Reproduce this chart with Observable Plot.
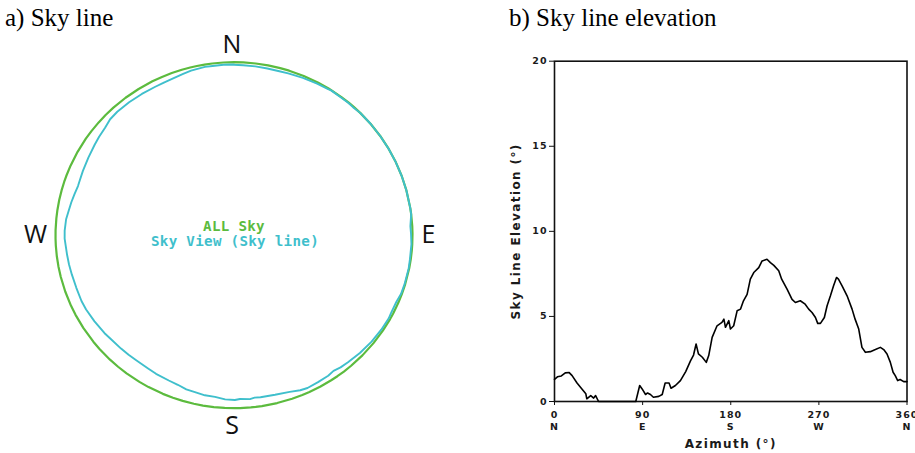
<!DOCTYPE html>
<html><head><meta charset="utf-8">
<script src="https://cdn.jsdelivr.net/npm/d3@7"></script>
<script src="https://cdn.jsdelivr.net/npm/@observablehq/plot@0.6"></script>
<style>
body{margin:0;background:#fff;}
#wrap{position:relative;width:915px;height:453px;overflow:hidden;background:#fff;}
#left{position:absolute;left:0;top:0;z-index:1;}
#right{position:absolute;left:460px;top:0;z-index:1;}
.title{position:absolute;top:5px;z-index:5;font-family:"Liberation Serif",serif;font-size:25px;line-height:25px;color:#000;white-space:nowrap;}
.tickl{letter-spacing:1px;}
.axl{letter-spacing:1.4px;}
.leg{letter-spacing:0.3px;}
</style></head>
<body><div id="wrap">
<div id="left"></div><div id="right"></div>
<div class="title" style="left:5px">a) Sky line</div>
<div class="title" style="left:509px">b) Sky line elevation</div>
</div>
<script>
// Azimuth (degrees from North, clockwise) and sky line elevation (degrees)
const azimuth = [0,3,7,11,15,18,23,28,32,33,
  37,40,42,45,50,55,60,65,70,75,
  81,83,87,89.5,93,95,98,101,106.5,110,
  113,117,119,123.5,128.6,134,139,142,144.6,147,
  151,155,157.5,161,166,171,173,174.6,178,179.7,
  183,186.5,190,193,196.7,200,203.5,208.6,212,217,
  220.5,224,229,232,237.5,242.6,246,251,256,259.6,
  263,266.5,268.8,271.6,275.6,278.4,281.8,285,288,290,
  293.7,298.8,303.9,307,310.7,314,317.5,322.6,327.7,332.8,
  336.2,339.6,343,345.8,348,350.5,353,356.6,360];
const elevation = [1.3,1.45,1.5,1.68,1.7,1.52,1.09,0.74,0.45,0.16,
  0.35,0.2,0.35,0,0,0,0,0,0,0,
  0,0,0.94,0.74,0.41,0.5,0.41,0.25,0.3,0.41,
  1.09,1.09,0.78,0.94,1.23,1.76,2.4,2.73,3.38,2.8,
  2.6,2.3,2.7,3.77,4.45,4.65,4.84,4.36,4.75,4.26,
  4.45,5.33,5.43,5.92,6.3,7.19,7.58,7.87,8.26,8.36,
  8.16,8.0,7.68,7.19,6.6,6.0,5.82,5.92,5.72,5.43,
  5.23,4.94,4.59,4.59,4.94,5.63,6.21,6.8,7.29,7.19,
  6.8,6.21,5.43,4.84,4.26,3.18,2.89,2.93,3.05,3.18,
  3.05,2.79,2.3,1.72,1.52,1.23,1.29,1.17,1.17];

const compassAz = [0, 90, 180, 270];
const compassNames = ["N", "E", "S", "W"];
const legendLabels = ["ALL Sky", "Sky View (Sky line)"];

const xTicks = [0, 90, 180, 270, 360];
const xTickLabels = ["0", "90", "180", "270", "360"];
const xCompass = ["N", "E", "S", "W", "N"];
const yTicks = [0, 5, 10, 15, 20];

const green = "#5cbb3e";
const cyan = "#3fbfcc";

const sky = azimuth.map((a, i) => ({az: a, el: elevation[i]}));
const horizon = azimuth.map(a => ({az: a, el: 0}));

const rad = a => a * Math.PI / 180;
const px = d => (90 - d.el) / 90 * Math.sin(rad(d.az));
const py = d => (90 - d.el) / 90 * Math.cos(rad(d.az));

const leftPlot = Plot.plot({
  width: 460, height: 453,
  marginLeft: 55, marginRight: 48, marginTop: 61.7, marginBottom: 45.3,
  x: {domain: [-1, 1], axis: null},
  y: {domain: [-1, 1], axis: null},
  style: {background: "white", overflow: "visible"},
  marks: [
    Plot.line(horizon, {x: px, y: py, stroke: green, strokeWidth: 2.2}),
    Plot.line(sky, {x: px, y: py, stroke: cyan, strokeWidth: 1.9}),
    Plot.text(compassAz, {
      x: a => 1.1 * Math.sin(rad(a)), y: a => 1.1 * Math.cos(rad(a)),
      text: (a, i) => compassNames[i], dx: -2,
      fontFamily: "Open Sans", fontSize: 25, fill: "#111"
    }),
    Plot.text([legendLabels[0]], {frameAnchor: "middle", dy: -9, dx: 0, fill: green,
      fontFamily: "DejaVu Sans Mono", fontSize: 14.2, fontWeight: "bold", className: "leg"}),
    Plot.text([legendLabels[1]], {frameAnchor: "middle", dy: 6.5, dx: 1, fill: cyan,
      fontFamily: "DejaVu Sans Mono", fontSize: 14.2, fontWeight: "bold", className: "leg"})
  ]
});
document.getElementById("left").appendChild(leftPlot);

const rightPlot = Plot.plot({
  width: 455, height: 453,
  marginLeft: 94, marginRight: 8.5, marginTop: 60.7, marginBottom: 52,
  x: {domain: [0, 360]},
  y: {domain: [0, 20]},
  style: {background: "white", fontFamily: "DejaVu Sans", fontWeight: "bold", overflow: "visible", color: "#1a1a1a"},
  marks: [
    Plot.frame({stroke: "#111", strokeWidth: 1.6}),
    Plot.axisX({ticks: xTicks, tickFormat: d => xTickLabels[xTicks.indexOf(d)],
      tickSize: 4, tickPadding: 6, fontSize: 9.5, label: null, stroke: "#111", className: "tickl"}),
    Plot.text(xTicks, {x: d => d, text: (d, i) => xCompass[i], frameAnchor: "bottom",
      dy: 28, fontSize: 9.5, className: "tickl"}),
    Plot.axisY({ticks: yTicks, tickSize: 5, tickPadding: 2, fontSize: 9.5, label: null, stroke: "#111", className: "tickl"}),
    Plot.text(["Azimuth (°)"], {frameAnchor: "bottom", dy: 46, fontSize: 12, className: "axl"}),
    Plot.text(["Sky Line Elevation (°)"], {frameAnchor: "left", rotate: -90, dx: -38,
      textAnchor: "middle", fontSize: 12, className: "axl"}),
    Plot.line(sky, {x: "az", y: "el", stroke: "#000", strokeWidth: 1.6})
  ]
});
document.getElementById("right").appendChild(rightPlot);
</script>
</body></html>
